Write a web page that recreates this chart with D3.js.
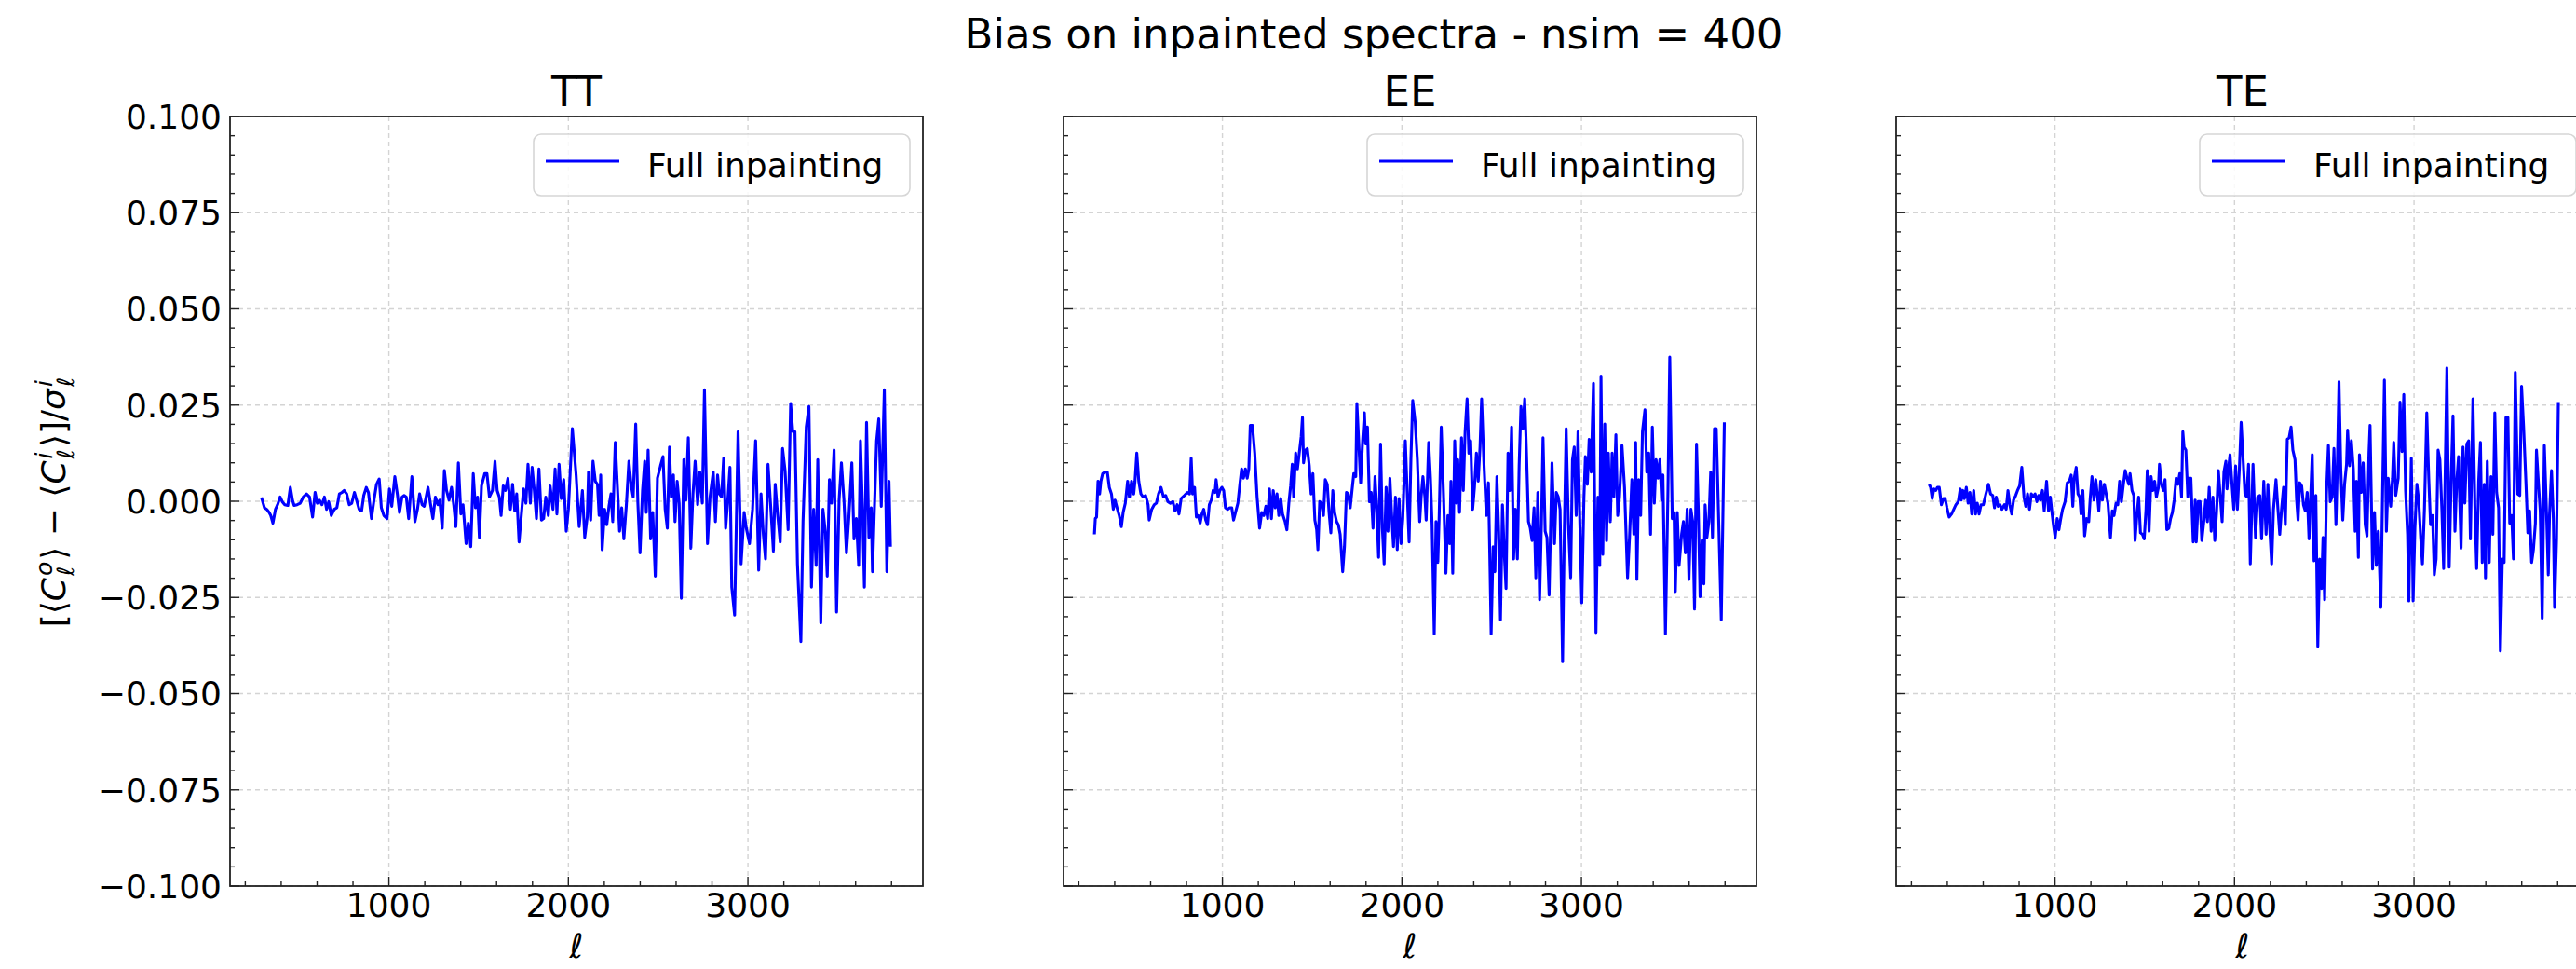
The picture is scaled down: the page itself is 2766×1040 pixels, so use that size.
<!DOCTYPE html>
<html>
<head>
<meta charset="utf-8">
<script src="https://cdn.jsdelivr.net/npm/d3@7"></script>
<style>
  html, body { margin: 0; padding: 0; background: #fff; overflow: hidden; }
  svg { display: block; }
  text { font-family: "DejaVu Sans", sans-serif; fill: #000; }
</style>
</head>
<body>
<svg id="chart" width="2766" height="1040"></svg>
<script>
// ---------- DATA ----------
const suptitle = "Bias on inpainted spectra - nsim = 400";
const panelNames = ["TT", "EE", "TE"];
const legendLabel = "Full inpainting";
const xTicks = [1000, 2000, 3000];
const yTicks = [-0.100, -0.075, -0.050, -0.025, 0.000, 0.025, 0.050, 0.075, 0.100];

// [ell, bias] pairs
const biasTT = [[290,0.0010],[307,-0.0017],[320,-0.0021],[333,-0.0029],[342,-0.0037],[354,-0.0057],[368,-0.0021],[380,-0.0009],[394,0.0011],[406,-0.0001],[420,-0.0009],[437,-0.0011],[451,0.0036],[463,0.0003],[472,-0.0011],[489,-0.0009],[506,-0.0005],[523,0.0011],[541,0.0019],[558,0.0011],[575,-0.0041],[589,0.0023],[601,-0.0005],[613,0.0003],[627,-0.0009],[641,0.0011],[653,-0.0021],[665,-0.0001],[679,-0.0037],[696,-0.0021],[710,-0.0017],[724,0.0019],[739,0.0023],[751,0.0028],[765,0.0019],[779,-0.0009],[793,-0.0005],[808,0.0023],[820,0.0003],[834,-0.0021],[848,-0.0025],[860,0.0015],[874,0.0036],[886,0.0023],[903,-0.0045],[917,0.0003],[931,0.0044],[946,0.0058],[958,-0.0017],[972,-0.0037],[990,-0.0045],[1003,0.0032],[1016,-0.0013],[1033,0.0064],[1047,0.0019],[1059,-0.0029],[1073,0.0011],[1085,0.0015],[1097,0.0011],[1110,-0.0045],[1128,0.0064],[1145,-0.0053],[1159,-0.0021],[1171,0.0019],[1185,-0.0009],[1197,-0.0013],[1218,0.0036],[1231,-0.0005],[1245,-0.0045],[1259,0.0011],[1273,-0.0009],[1283,0.0003],[1297,-0.0070],[1309,0.0080],[1321,0.0028],[1335,0.0003],[1349,0.0036],[1361,-0.0009],[1373,-0.0066],[1387,0.0100],[1401,-0.0033],[1413,-0.0009],[1430,-0.0110],[1442,-0.0057],[1456,-0.0118],[1470,0.0072],[1482,-0.0017],[1494,0.0011],[1504,-0.0094],[1516,0.0040],[1534,0.0072],[1546,0.0072],[1560,0.0011],[1577,0.0028],[1591,0.0104],[1603,0.0028],[1615,0.0011],[1625,-0.0037],[1637,0.0040],[1649,0.0028],[1663,0.0060],[1677,-0.0021],[1689,0.0044],[1701,-0.0025],[1712,0.0019],[1725,-0.0106],[1736,-0.0045],[1750,0.0032],[1763,-0.0005],[1775,0.0096],[1788,-0.0005],[1798,0.0088],[1810,0.0028],[1822,-0.0045],[1836,0.0084],[1850,-0.0049],[1862,-0.0045],[1874,0.0011],[1888,-0.0037],[1898,0.0040],[1914,-0.0021],[1926,0.0084],[1936,-0.0033],[1948,0.0096],[1960,0.0007],[1974,0.0056],[1988,-0.0078],[2000,-0.0021],[2022,0.0189],[2043,0.0068],[2060,-0.0066],[2078,0.0028],[2091,-0.0094],
[2105,-0.0041],[2112,0.0076],[2124,-0.0049],[2137,0.0104],[2150,0.0052],[2162,0.0044],[2171,-0.0037],[2180,0.0068],[2188,-0.0126],[2202,-0.0021],[2214,-0.0061],[2226,-0.0013],[2237,0.0019],[2247,-0.0053],[2261,0.0153],[2275,0.0019],[2285,-0.0078],[2297,-0.0017],[2309,-0.0098],[2323,-0.0009],[2337,0.0104],[2349,0.0044],[2361,0.0011],[2375,0.0201],[2387,-0.0005],[2399,-0.0134],[2413,0.0028],[2425,0.0104],[2434,-0.0029],[2444,0.0133],[2458,-0.0098],[2470,-0.0029],[2484,-0.0195],[2496,0.0060],[2513,0.0092],[2527,0.0116],[2539,-0.0021],[2551,-0.0070],[2563,0.0141],[2573,0.0011],[2585,0.0068],[2594,-0.0053],[2606,0.0052],[2617,-0.0005],[2629,-0.0252],[2643,0.0108],[2655,0.0003],[2668,0.0165],[2682,-0.0122],[2694,0.0019],[2706,0.0104],[2720,-0.0009],[2732,0.0076],[2746,-0.0005],[2758,0.0290],[2775,-0.0110],[2789,0.0011],[2807,0.0076],[2819,-0.0053],[2831,0.0068],[2841,0.0019],[2853,0.0011],[2865,0.0112],[2876,-0.0070],[2888,0.0003],[2900,0.0088],[2910,-0.0223],[2926,-0.0296],[2945,0.0181],[2962,-0.0163],[2979,-0.0029],[2991,-0.0070],[3009,-0.0110],[3026,-0.0021],[3043,0.0157],[3060,-0.0179],[3073,0.0019],[3086,-0.0086],[3098,-0.0150],[3112,0.0096],[3128,-0.0021],[3142,-0.0130],[3152,0.0044],[3166,-0.0037],[3180,-0.0106],[3193,0.0137],[3207,0.0080],[3224,-0.0074],[3238,0.0254],[3250,0.0181],[3262,0.0181],[3276,-0.0163],[3295,-0.0365],[3307,-0.0053],[3325,0.0193],[3340,0.0246],[3354,-0.0223],[3366,-0.0021],[3380,-0.0167],[3389,0.0108],[3406,-0.0316],[3418,-0.0021],[3432,-0.0082],[3442,-0.0195],[3454,0.0056],[3466,-0.0005],[3480,0.0133],[3494,-0.0288],[3508,0.0003],[3521,0.0100],[3535,0.0003],[3549,-0.0134],[3563,-0.0037],[3579,0.0100],[3591,-0.0098],[3604,-0.0045],[3617,-0.0167],[3627,0.0157],[3639,-0.0029],[3649,-0.0223],[3661,0.0205],[3674,-0.0094],[3687,-0.0017],[3694,-0.0183],[3704,-0.0029],[3717,0.0157],[3729,0.0214],[3743,-0.0013],[3760,0.0290],[3774,-0.0183],[3786,0.0052],[3794,-0.0118]];

const biasEE = [[287,-0.0086],[292,-0.0045],[299,-0.0041],[307,0.0052],[316,0.0019],[323,0.0052],[333,0.0072],[347,0.0076],[359,0.0076],[370,0.0036],[382,0.0019],[392,-0.0021],[402,0.0003],[413,-0.0017],[425,-0.0037],[437,-0.0066],[447,-0.0029],[459,-0.0005],[472,0.0052],[482,0.0011],[494,0.0052],[506,0.0019],[513,0.0052],[523,0.0125],[534,0.0052],[546,0.0019],[558,0.0011],[572,0.0015],[586,-0.0009],[592,-0.0049],[606,-0.0021],[620,-0.0009],[632,-0.0005],[644,0.0019],[658,0.0036],[672,0.0011],[684,0.0015],[696,-0.0001],[710,-0.0005],[724,-0.0001],[736,-0.0025],[748,-0.0009],[758,-0.0033],[770,0.0007],[788,0.0015],[805,0.0023],[817,0.0019],[826,0.0112],[834,0.0019],[845,0.0036],[855,-0.0041],[865,-0.0037],[876,-0.0057],[886,-0.0033],[896,-0.0021],[907,-0.0049],[917,-0.0061],[927,-0.0009],[938,0.0003],[948,0.0028],[959,0.0023],[965,0.0056],[976,0.0011],[986,0.0028],[997,0.0036],[1007,0.0028],[1017,-0.0017],[1029,-0.0021],[1041,-0.0017],[1052,-0.0017],[1062,-0.0049],[1073,-0.0029],[1086,-0.0005],[1098,0.0048],[1107,0.0084],[1117,0.0060],[1128,0.0084],[1138,0.0060],[1147,0.0084],[1155,0.0197],[1167,0.0197],[1180,0.0125],[1193,0.0011],[1207,-0.0070],[1219,-0.0029],[1231,-0.0037],[1242,-0.0013],[1252,-0.0045],[1262,0.0032],[1273,-0.0045],[1283,0.0028],[1294,-0.0017],[1304,0.0019],[1314,-0.0037],[1325,0.0007],[1335,-0.0033],[1349,-0.0053],[1359,-0.0074],[1370,-0.0005],[1380,0.0040],[1389,0.0096],[1397,0.0011],[1408,0.0125],[1418,0.0084],[1428,0.0125],[1439,0.0169],[1446,0.0218],[1452,0.0100],[1463,0.0133],[1473,0.0137],[1484,0.0092],[1494,0.0019],[1504,0.0072],[1515,-0.0049],[1525,-0.0074],[1532,-0.0126],[1542,-0.0001],[1553,-0.0005],[1563,-0.0037],[1573,0.0056],[1584,0.0044],[1594,-0.0029],[1604,-0.0082],[1615,0.0028],[1625,-0.0029],[1636,-0.0053],[1646,-0.0061],[1656,-0.0086],[1670,-0.0183],[1680,-0.0118],[1691,0.0023],[1701,0.0019],[1712,-0.0017],[1722,0.0028],[1732,0.0072],[1743,0.0064],[1749,0.0254],[1760,0.0149],[1770,0.0048],[1781,0.0157],[1791,0.0230],[1798,0.0149],[1808,0.0193],[1819,-0.0001],[1829,0.0023],[1839,-0.0070],[1850,0.0064],[1860,-0.0021],[1870,-0.0146],[1881,0.0149],[1891,-0.0070],[1901,-0.0163],[1912,0.0036],[1922,-0.0078],[1933,0.0060],[1943,-0.0037],[1953,-0.0118],[1964,0.0011],[1974,-0.0126],[1984,0.0007],[1995,-0.0110],[2005,-0.0045],[2019,0.0157],[2029,0.0028],[2040,-0.0106],[2050,0.0108],[2060,0.0262],[2074,0.0205],
[2086,0.0108],[2099,-0.0053],[2107,0.0011],[2117,0.0064],[2128,0.0011],[2135,-0.0049],[2149,0.0153],[2159,0.0060],[2168,-0.0061],[2180,-0.0345],[2190,-0.0053],[2200,-0.0159],[2207,-0.0049],[2219,0.0193],[2232,0.0011],[2245,-0.0187],[2256,-0.0037],[2266,-0.0110],[2273,0.0052],[2283,-0.0187],[2294,0.0157],[2304,-0.0005],[2311,0.0108],[2321,-0.0029],[2332,0.0165],[2342,0.0028],[2352,0.0181],[2363,0.0266],[2373,0.0125],[2383,0.0157],[2394,-0.0021],[2404,0.0036],[2415,0.0125],[2425,0.0052],[2435,0.0141],[2444,0.0266],[2456,0.0108],[2470,-0.0037],[2482,0.0048],[2491,-0.0183],[2497,-0.0345],[2508,-0.0118],[2518,-0.0183],[2529,0.0064],[2539,-0.0078],[2549,-0.0308],[2560,-0.0009],[2570,-0.0134],[2580,-0.0227],[2591,0.0125],[2601,0.0028],[2611,0.0193],[2622,-0.0150],[2632,-0.0021],[2643,-0.0150],[2653,0.0092],[2663,0.0246],[2674,0.0189],[2684,0.0266],[2694,0.0125],[2705,-0.0053],[2715,-0.0070],[2725,-0.0102],[2736,-0.0017],[2746,-0.0199],[2757,0.0023],[2767,-0.0256],[2777,-0.0061],[2786,0.0165],[2798,-0.0078],[2808,-0.0094],[2820,-0.0244],[2836,0.0100],[2850,-0.0110],[2860,0.0023],[2871,0.0011],[2881,-0.0021],[2895,-0.0417],[2905,-0.0070],[2915,0.0189],[2927,-0.0053],[2940,-0.0199],[2950,0.0108],[2960,0.0141],[2971,-0.0037],[2981,0.0181],[2991,-0.0053],[3002,-0.0264],[3014,0.0011],[3022,0.0116],[3033,0.0044],[3043,0.0161],[3054,0.0076],[3067,0.0307],[3081,-0.0341],[3092,0.0011],[3102,-0.0167],[3109,0.0323],[3119,-0.0138],[3130,0.0201],[3140,-0.0102],[3150,0.0125],[3161,-0.0053],[3171,0.0125],[3181,0.0011],[3192,0.0173],[3202,-0.0037],[3212,0.0011],[3226,0.0145],[3240,0.0036],[3257,-0.0199],[3268,-0.0094],[3281,0.0056],[3292,-0.0086],[3302,0.0153],[3309,-0.0203],[3319,0.0056],[3330,-0.0037],[3340,0.0181],[3354,0.0238],[3364,0.0076],[3375,0.0125],[3385,-0.0086],[3395,0.0193],[3406,-0.0005],[3416,0.0108],[3427,0.0060],[3437,0.0108],[3447,0.0003],[3454,0.0068],[3468,-0.0345],[3482,0.0028],[3492,0.0375],[3506,-0.0045],[3516,-0.0029],[3523,-0.0235],[3534,-0.0029],[3544,-0.0167],[3558,-0.0086],[3568,-0.0053],[3579,-0.0134],[3589,-0.0021],[3599,-0.0203],[3610,-0.0021],[3620,-0.0053],[3630,-0.0280],[3641,0.0149],[3651,-0.0021],[3661,-0.0248],[3672,-0.0102],[3682,-0.0215],[3689,-0.0009],[3699,-0.0094],[3710,-0.0053],[3720,0.0076],[3730,-0.0094],[3741,0.0189],[3751,0.0189],[3762,-0.0005],[3779,-0.0308],[3796,0.0205]];

const biasTE = [[299,0.0044],[307,0.0036],[316,0.0007],[325,0.0032],[335,0.0028],[345,0.0036],[355,0.0036],[367,-0.0009],[379,0.0007],[388,0.0007],[398,-0.0017],[410,-0.0041],[424,-0.0033],[436,-0.0021],[448,-0.0009],[461,-0.0001],[472,0.0032],[478,0.0003],[487,0.0028],[495,0.0007],[506,0.0036],[516,-0.0005],[526,0.0023],[536,-0.0033],[547,0.0028],[557,-0.0033],[567,-0.0005],[577,-0.0033],[588,-0.0009],[601,-0.0009],[615,0.0019],[629,0.0044],[641,0.0019],[653,0.0015],[663,-0.0017],[673,0.0011],[683,-0.0013],[694,-0.0009],[704,-0.0021],[718,-0.0009],[728,-0.0021],[738,0.0028],[748,-0.0009],[759,-0.0033],[769,0.0003],[781,0.0015],[791,0.0028],[803,0.0040],[815,0.0088],[827,0.0011],[837,-0.0013],[847,0.0019],[858,-0.0021],[868,0.0019],[878,0.0011],[889,0.0019],[899,-0.0001],[909,0.0015],[919,0.0003],[930,0.0028],[940,-0.0025],[953,0.0052],[964,-0.0025],[974,0.0011],[983,-0.0029],[991,-0.0061],[1001,-0.0094],[1012,-0.0045],[1022,-0.0074],[1032,-0.0045],[1042,-0.0021],[1056,-0.0001],[1068,0.0048],[1080,0.0052],[1090,0.0068],[1099,-0.0013],[1107,0.0060],[1118,0.0088],[1128,0.0019],[1138,0.0011],[1145,-0.0033],[1155,0.0028],[1165,-0.0090],[1176,-0.0045],[1188,-0.0053],[1196,0.0007],[1206,0.0064],[1217,0.0003],[1227,0.0056],[1237,0.0011],[1244,-0.0025],[1254,0.0052],[1264,0.0003],[1275,0.0044],[1285,0.0019],[1295,-0.0005],[1309,-0.0094],[1319,-0.0025],[1329,-0.0037],[1340,-0.0005],[1350,-0.0009],[1360,0.0052],[1370,-0.0001],[1381,0.0044],[1391,0.0080],[1401,0.0060],[1411,0.0044],[1418,0.0072],[1429,0.0028],[1439,0.0015],[1446,-0.0102],[1456,-0.0037],[1466,0.0011],[1476,-0.0082],[1487,-0.0086],[1497,-0.0098],[1507,-0.0021],[1514,0.0080],[1524,-0.0078],[1535,0.0064],[1545,0.0028],[1555,0.0052],[1565,0.0011],[1576,0.0036],[1582,0.0096],[1593,0.0044],[1603,0.0028],[1613,0.0056],[1623,-0.0074],[1634,-0.0070],[1644,-0.0045],[1654,-0.0029],[1664,0.0003],[1675,0.0060],[1685,0.0044],[1695,0.0072],[1705,0.0011],[1712,0.0181],[1719,0.0141],[1729,0.0133],[1740,0.0011],[1746,0.0060],[1757,0.0060],[1770,-0.0106],[1781,0.0003],[1787,-0.0106],[1798,-0.0001],[1808,-0.0001],[1818,-0.0102],[1829,-0.0053],[1839,0.0003],[1849,-0.0053],[1859,0.0036],[1870,-0.0078],[1880,0.0011],[1890,-0.0102],[1900,-0.0029],[1910,0.0080],[1921,0.0011],[1931,-0.0053],[1941,0.0076],[1952,0.0104],[1958,0.0032],[1969,0.0096],[1975,0.0121],[1986,0.0044],[1996,-0.0021],[2006,0.0092],[2016,-0.0021],[2027,0.0084],[2037,0.0205],[2047,0.0116],[2058,0.0019],[2068,0.0011],[2078,0.0096],[2088,-0.0163],
[2103,0.0096],[2117,-0.0094],[2129,0.0011],[2141,0.0015],[2151,-0.0098],[2163,0.0052],[2176,-0.0086],[2186,0.0044],[2196,-0.0070],[2207,-0.0163],[2217,-0.0021],[2231,0.0056],[2242,-0.0021],[2252,-0.0086],[2262,-0.0021],[2273,0.0036],[2283,-0.0061],[2294,0.0161],[2304,0.0165],[2315,0.0193],[2325,0.0133],[2337,0.0108],[2346,0.0003],[2354,-0.0049],[2363,0.0048],[2374,0.0040],[2384,-0.0009],[2394,-0.0025],[2405,0.0023],[2415,-0.0098],[2424,0.0011],[2433,0.0121],[2443,-0.0155],[2453,0.0015],[2464,-0.0377],[2474,-0.0150],[2485,-0.0227],[2493,-0.0094],[2502,-0.0256],[2512,0.0019],[2523,0.0145],[2533,-0.0001],[2544,0.0011],[2554,0.0137],[2565,-0.0061],[2571,0.0052],[2582,0.0311],[2592,0.0084],[2603,-0.0049],[2613,0.0044],[2624,0.0096],[2630,0.0185],[2641,0.0092],[2651,0.0157],[2662,0.0084],[2672,-0.0078],[2679,0.0052],[2690,-0.0146],[2696,0.0121],[2707,0.0023],[2717,0.0100],[2728,-0.0061],[2738,-0.0090],[2749,0.0125],[2755,0.0197],[2769,-0.0176],[2780,-0.0029],[2790,-0.0167],[2801,-0.0078],[2815,-0.0276],[2825,0.0028],[2835,0.0315],[2846,-0.0078],[2856,0.0060],[2870,-0.0013],[2880,0.0060],[2887,0.0153],[2898,0.0015],[2912,0.0060],[2922,0.0258],[2933,0.0129],[2943,0.0278],[2953,0.0028],[2964,-0.0086],[2971,-0.0259],[2985,0.0112],[2995,-0.0259],[3005,-0.0070],[3016,0.0044],[3026,0.0003],[3037,-0.0094],[3047,-0.0163],[3058,-0.0021],[3071,0.0230],[3082,0.0060],[3092,-0.0061],[3103,-0.0037],[3113,-0.0191],[3123,-0.0150],[3134,0.0133],[3144,0.0108],[3155,-0.0021],[3165,-0.0175],[3183,0.0347],[3196,-0.0171],[3207,0.0060],[3217,0.0222],[3228,-0.0078],[3238,0.0052],[3248,0.0116],[3262,-0.0122],[3273,0.0141],[3283,-0.0005],[3294,0.0149],[3304,0.0157],[3314,-0.0098],[3328,0.0266],[3339,-0.0013],[3349,-0.0175],[3360,0.0052],[3370,0.0153],[3380,-0.0159],[3391,0.0044],[3398,-0.0199],[3408,0.0104],[3419,-0.0159],[3429,0.0064],[3439,-0.0086],[3450,0.0230],[3460,0.0023],[3471,-0.0017],[3481,-0.0389],[3492,-0.0150],[3502,-0.0159],[3512,0.0218],[3523,0.0218],[3533,-0.0057],[3544,-0.0037],[3554,-0.0150],[3564,0.0335],[3578,0.0019],[3589,0.0015],[3599,0.0299],[3610,0.0197],[3623,0.0052],[3634,-0.0082],[3644,-0.0025],[3655,-0.0159],[3665,-0.0126],[3676,-0.0057],[3682,0.0133],[3693,0.0048],[3703,-0.0025],[3714,-0.0304],[3726,0.0145],[3738,-0.0029],[3748,-0.0191],[3755,-0.0033],[3766,0.0080],[3776,-0.0045],[3783,-0.0276],[3794,-0.0098],[3804,0.0258]];

const seriesList = [biasTT, biasEE, biasTE];

// ---------- LAYOUT ----------
const W = 2766, H = 1040;
const panelLeft = [247, 1142, 2036];
const panelW = 744, plotTop = 125, plotBottom = 951;
const xDomain = [115, 3975];
const yDomain = [-0.1, 0.1];
const LINE_W = 3.1;

const svg = d3.select("#chart");
svg.append("rect").attr("width", W).attr("height", H).attr("fill", "#fff");

svg.append("text")
  .attr("x", 1475).attr("y", 52)
  .attr("text-anchor", "middle")
  .style("font-size", "45px")
  .text(suptitle);

const yScale = d3.scaleLinear().domain(yDomain).range([plotBottom, plotTop]);
const fmtY = v => (v < 0 ? "\u2212" : "") + Math.abs(v).toFixed(3);

panelNames.forEach((name, i) => {
  const x0 = panelLeft[i], x1 = x0 + panelW;
  const xScale = d3.scaleLinear().domain(xDomain).range([x0, x1]);
  const g = svg.append("g");

  // grid
  const grid = g.append("g").attr("stroke", "#d4d4d4").attr("stroke-width", 1.4)
    .attr("stroke-dasharray", "5,4");
  xTicks.forEach(t => grid.append("line")
    .attr("x1", xScale(t)).attr("x2", xScale(t)).attr("y1", plotTop).attr("y2", plotBottom));
  yTicks.forEach(t => grid.append("line")
    .attr("x1", x0).attr("x2", x1).attr("y1", yScale(t)).attr("y2", yScale(t)));

  // data line
  const data = seriesList[i];
  const line = d3.line().x(d => xScale(d[0])).y(d => yScale(d[1]));
  g.append("path").datum(data)
    .attr("d", line)
    .attr("fill", "none")
    .attr("stroke", "#0000ff")
    .attr("stroke-width", LINE_W)
    .attr("stroke-linejoin", "round");

  // inward ticks
  const xMinor = d3.range(200, 3801, 200).filter(v => !xTicks.includes(v));
  const yMinor = d3.range(-100, 101, 5).filter(v => v % 25 !== 0).map(v => v / 1000);

  const tk = g.append("g").attr("stroke", "#222").attr("stroke-width", 1.4);
  xTicks.forEach(t => tk.append("line").attr("x1", xScale(t)).attr("x2", xScale(t)).attr("y1", plotBottom).attr("y2", plotBottom - 10));
  xMinor.forEach(t => tk.append("line").attr("x1", xScale(t)).attr("x2", xScale(t)).attr("y1", plotBottom).attr("y2", plotBottom - 5));
  yTicks.forEach(t => tk.append("line").attr("x1", x0).attr("x2", x0 + 10).attr("y1", yScale(t)).attr("y2", yScale(t)));
  yMinor.forEach(t => tk.append("line").attr("x1", x0).attr("x2", x0 + 5).attr("y1", yScale(t)).attr("y2", yScale(t)));

  // frame
  g.append("rect").attr("x", x0).attr("y", plotTop).attr("width", panelW).attr("height", plotBottom - plotTop)
    .attr("fill", "none").attr("stroke", "#222").attr("stroke-width", 1.8);

  // x tick labels
  xTicks.forEach(t => g.append("text")
    .attr("x", xScale(t)).attr("y", 984).attr("text-anchor", "middle")
    .style("font-size", "36px").text(d3.format("d")(t)));

  // y tick labels (only first panel)
  if (i === 0) {
    yTicks.forEach(t => g.append("text")
      .attr("x", x0 - 9).attr("y", yScale(t)).attr("dy", "0.36em")
      .attr("text-anchor", "end").style("font-size", "36px").text(fmtY(t)));
  }

  // x label
  g.append("text").attr("x", (x0 + x1) / 2).attr("y", 1028).attr("text-anchor", "middle")
    .style("font-size", "36px").style("font-style", "italic").text("\u2113");

  // panel title
  g.append("text").attr("x", (x0 + x1) / 2).attr("y", 114).attr("text-anchor", "middle")
    .style("font-size", "45px").text(name);

  // legend
  const bx = x1 - 418, by = plotTop + 19;
  const leg = g.append("g");
  leg.append("rect").attr("x", bx).attr("y", by).attr("width", 404).attr("height", 66)
    .attr("rx", 8).attr("ry", 8)
    .attr("fill", "#fff").attr("fill-opacity", 0.85)
    .attr("stroke", "#d6d6d6").attr("stroke-width", 1.6);
  leg.append("line").attr("x1", bx + 13).attr("x2", bx + 92).attr("y1", by + 29).attr("y2", by + 29)
    .attr("stroke", "#0000ff").attr("stroke-width", LINE_W);
  leg.append("text").attr("x", bx + 122).attr("y", by + 46)
    .style("font-size", "36px").text(legendLabel);
});

// y label (math-like), rotated
(function () {
  const g = svg.append("g").attr("transform", "translate(70,538) rotate(-90)");
  const pieces = [
    { t: "[\u27E8" }, { t: "C", it: true }, { sup: "o", sub: "\u2113" },
    { t: "\u27E9 \u2212 \u27E8" }, { t: "C", it: true }, { sup: "i", sub: "\u2113" },
    { t: "\u27E9]/" }, { t: "\u03C3", it: true }, { sup: "i", sub: "\u2113" }
  ];
  let cx = 0;
  const inner = g.append("g");
  pieces.forEach(p => {
    if (p.t) {
      const el = inner.append("text").attr("x", cx).attr("y", 0)
        .style("font-size", "36px").style("font-style", p.it ? "italic" : "normal").text(p.t);
      cx += el.node().getComputedTextLength() + (p.it ? 2 : 0);
    } else {
      const a = inner.append("text").attr("x", cx).attr("y", -14)
        .style("font-size", "25px").style("font-style", "italic").text(p.sup);
      const b = inner.append("text").attr("x", cx).attr("y", 9)
        .style("font-size", "25px").style("font-style", "italic").text(p.sub);
      cx += Math.max(a.node().getComputedTextLength(), b.node().getComputedTextLength()) + 2;
    }
  });
  inner.attr("transform", `translate(${-cx / 2},0)`);
})();
</script>
</body>
</html>
